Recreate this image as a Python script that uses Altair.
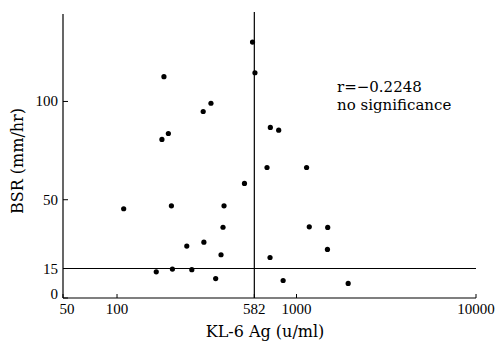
import altair as alt
import pandas as pd

# KL-6 Ag (u/ml) and BSR (mm/hr)
kl6 = [108.9, 165.4, 177.9, 182.5, 193.2, 200.9, 203.5, 244.7, 261, 302,
       304.8, 333.7, 354.5, 379.7, 389.5, 394.6, 512.9, 568.7, 586.8, 714.8,
       795.7, 684.9, 712, 842.2, 1138, 1178, 1492, 1487, 1940]
bsr = [45.4, 13.3, 80.7, 112.6, 83.7, 46.9, 14.7, 26.4, 14.4, 94.9,
       28.4, 99.1, 9.9, 22, 36, 46.9, 58.3, 130.2, 114.6, 86.8,
       85.4, 66.4, 20.6, 8.9, 66.4, 36.2, 35.9, 24.7, 7.4]

x_ticks = [50, 100, 582, 1000, 10000]
y_ticks = [0, 15, 50, 100]
cutoff_x = [582]
cutoff_y = [15]
x_title = ["KL-6 Ag (u/ml)"]
y_title = ["BSR (mm/hr)"]
annot_lines = ["r=\u22120.2248", "no significance"]

W, H = 413, 284
xscale = alt.Scale(type="log", domain=[50, 10000], nice=False)
yscale = alt.Scale(domain=[0, 144.5], nice=False, zero=False)


def X(field="kl6"):
    return alt.X(f"{field}:Q", scale=xscale, axis=None)


def Y(field="bsr"):
    return alt.Y(f"{field}:Q", scale=yscale, axis=None)


pts = pd.DataFrame({"kl6": kl6, "bsr": bsr})
points = alt.Chart(pts).mark_circle(size=27, color="black", opacity=1).encode(x=X(), y=Y())

# frame (axis lines)
y_axis_line = alt.Chart(pd.DataFrame({"a": [0]})).mark_rule(color="black", strokeWidth=1.2).encode(
    x=alt.value(0), y=alt.value(0), y2=alt.value(H))
x_axis_line = alt.Chart(pd.DataFrame({"a": [0]})).mark_rule(color="black", strokeWidth=1.2).encode(
    x=alt.value(0), x2=alt.value(W), y=alt.value(H))

# cut-off lines
vline = alt.Chart(pd.DataFrame({"kl6": cutoff_x})).mark_rule(color="black", strokeWidth=1.2).encode(
    x=X(), y=alt.value(-2), y2=alt.value(H))
hline = alt.Chart(pd.DataFrame({"bsr": cutoff_y})).mark_rule(color="black", strokeWidth=1.2).encode(
    y=Y(), x=alt.value(0), x2=alt.value(W))

# inward ticks
xt = alt.Chart(pd.DataFrame({"kl6": x_ticks})).mark_rule(color="black", strokeWidth=1).encode(
    x=X(), y=alt.value(H), y2=alt.value(H - 4))
yt = alt.Chart(pd.DataFrame({"bsr": y_ticks})).mark_rule(color="black", strokeWidth=1).encode(
    y=Y(), x=alt.value(0), x2=alt.value(5))

# tick labels (the corner labels are nudged apart as in the original)
xdf = pd.DataFrame({"kl6": x_ticks, "lab": [str(v) for v in x_ticks]})
ydf = pd.DataFrame({"bsr": y_ticks, "lab": [str(v) for v in y_ticks]})
xlab_style = dict(align="center", baseline="alphabetic", font="Liberation Serif",
                  fontSize=15, color="black")
ylab_style = dict(align="right", baseline="middle", font="Liberation Serif",
                  fontSize=15, color="black")
xl = alt.Chart(xdf.iloc[1:]).mark_text(**xlab_style).encode(
    x=X(), y=alt.value(H + 15.5), text="lab:N")
xl0 = alt.Chart(xdf.iloc[:1]).mark_text(dx=4, **xlab_style).encode(
    x=X(), y=alt.value(H + 15.5), text="lab:N")
yl = alt.Chart(ydf.iloc[1:]).mark_text(**ylab_style).encode(
    y=Y(), x=alt.value(-5), text="lab:N")
yl0 = alt.Chart(ydf.iloc[:1]).mark_text(dy=-4, **ylab_style).encode(
    y=Y(), x=alt.value(-5), text="lab:N")

# axis titles
xtitle = alt.Chart(pd.DataFrame({"t": x_title})).mark_text(
    align="center", baseline="alphabetic", font="DejaVu Serif", fontSize=16, color="black"
).encode(text="t:N", x=alt.value(202), y=alt.value(H + 38.5))
ytitle = alt.Chart(pd.DataFrame({"t": y_title})).mark_text(
    align="center", baseline="middle", angle=270, font="DejaVu Serif", fontSize=16, color="black"
).encode(text="t:N", x=alt.value(-45), y=alt.value(147))

# annotation
annot1 = alt.Chart(pd.DataFrame({"t": [annot_lines[0]]})).mark_text(
    align="left", baseline="alphabetic", font="DejaVu Serif", fontSize=15, color="black"
).encode(text="t:N", x=alt.value(274), y=alt.value(78))
annot2 = alt.Chart(pd.DataFrame({"t": [annot_lines[1]]})).mark_text(
    align="left", baseline="alphabetic", font="DejaVu Serif", fontSize=15, color="black"
).encode(text="t:N", x=alt.value(274), y=alt.value(95.5))

chart = alt.layer(
    y_axis_line, x_axis_line, vline, hline, xt, yt, points,
    xl, xl0, yl, yl0, xtitle, ytitle, annot1, annot2,
).properties(
    width=W, height=H,
    padding={"left": 63, "top": 14, "right": 26, "bottom": 44},
    autosize=alt.AutoSizeParams(type="none"),
    background="white",
).configure_view(stroke="transparent")

chart.save("out.html", embed_options={"renderer": "svg", "actions": False})
